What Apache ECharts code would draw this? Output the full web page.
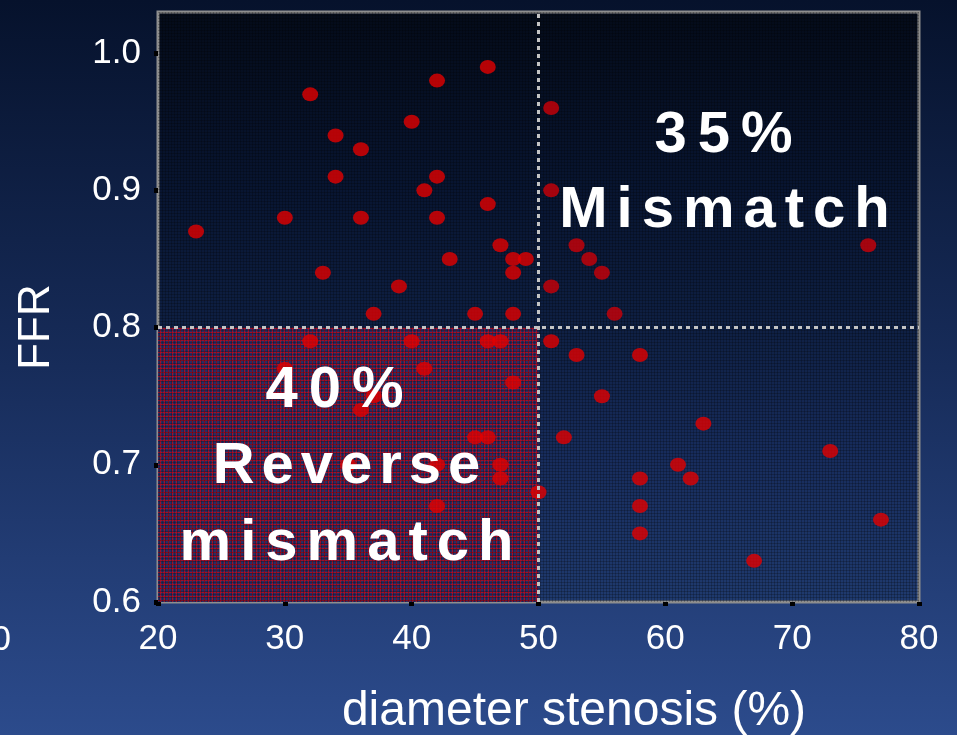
<!DOCTYPE html>
<html><head><meta charset="utf-8">
<script src="https://cdn.jsdelivr.net/npm/echarts@6/dist/echarts.min.js"></script>
<style>html,body{margin:0;padding:0;background:#0b1a3a}#c{width:957px;height:735px}</style>
</head><body><div id="c"></div>
<script>
// ---- data ----
const stenosis = [46,42,32,40,34,36,34,42,41,46,30,36,42,23,47,43,48,49,48,33,39,37,45,48,
                  51,51,76,53,54,55,51,56,
                  32,40,46,47,51,30,41,48,37,36,45,46,35,42,47,47,50,42,
                  53,58,55,63,52,73,61,58,62,58,58,77,67];
const ffr = [0.99,0.98,0.97,0.95,0.94,0.93,0.91,0.91,0.90,0.89,0.88,0.88,0.88,0.87,0.86,0.85,0.85,0.85,0.84,0.84,0.83,0.81,0.81,0.81,
             0.96,0.90,0.86,0.86,0.85,0.84,0.83,0.81,
             0.79,0.79,0.79,0.79,0.79,0.77,0.77,0.76,0.75,0.74,0.72,0.72,0.70,0.70,0.70,0.69,0.68,0.67,
             0.78,0.78,0.75,0.73,0.72,0.71,0.70,0.69,0.69,0.67,0.65,0.66,0.63];
const xTicks = [20,30,40,50,60,70,80];
const yTicks = [0.6,0.7,0.8,0.9,1.0];
const yMax = 1.03;
const xCut = 50, yCut = 0.8;
const xName = 'diameter stenosis (%)';
const yName = 'FFR';
const annText = ['35%','Mismatch','40%','Reverse','mismatch'];

// letter spacing for the bold annotation words
const spacing = {'35%':'11px','Mismatch':'9px','40%':'11px','Reverse':'7px','mismatch':'9px'};
(function(){
  const P = CanvasRenderingContext2D.prototype;
  ['fillText','strokeText'].forEach(function(fn){
    const orig = P[fn];
    P[fn] = function(t){
      const ls = spacing[t];
      if (ls && 'letterSpacing' in this) {
        const prev = this.letterSpacing; this.letterSpacing = ls;
        const r = orig.apply(this, arguments); this.letterSpacing = prev; return r;
      }
      return orig.apply(this, arguments);
    };
  });
})();

function makeTile(size, base, line){
  const c = document.createElement('canvas'); c.width = size; c.height = size;
  const g = c.getContext('2d');
  if (base){ g.fillStyle = base; g.fillRect(0,0,size,size); }
  g.fillStyle = line; g.fillRect(0,0,size,1); g.fillRect(0,0,1,size);
  return c;
}
const redTile = makeTile(4, '#2a2c64', '#a0102a');
const gridTile = makeTile(3, null, 'rgba(0,0,0,0.22)');

const FONT = '"Liberation Sans", Arial, sans-serif';
const points = stenosis.map((x,i)=>[x, ffr[i]]);

const chart = echarts.init(document.getElementById('c'));
chart.setOption({
  backgroundColor: {type:'linear',x:0,y:0,x2:0,y2:1,colorStops:[
    {offset:0,color:'#06122c'},{offset:0.5,color:'#172c5a'},{offset:1,color:'#2c4b8c'}]},
  animation:false,
  grid:{left:158,right:38,top:12,bottom:133,show:true,borderColor:'#8e8e8e',borderWidth:3,
    backgroundColor:{type:'linear',x:0,y:0,x2:0,y2:1,colorStops:[
      {offset:0,color:'#040b19'},{offset:0.3,color:'#081531'},{offset:0.52,color:'#0e1f42'},
      {offset:0.75,color:'#172c5c'},{offset:1,color:'#1f3a6e'}]}},
  xAxis:{type:'value',min:xTicks[0],max:xTicks[xTicks.length-1],interval:xTicks[1]-xTicks[0],
    axisLine:{show:false},splitLine:{show:false},
    axisTick:{show:true,length:4,lineStyle:{color:'#000',width:5}},
    axisLabel:{color:'#fff',fontSize:35,fontFamily:FONT,margin:20}},
  yAxis:{type:'value',min:yTicks[0],max:yMax,
    axisLine:{show:false},splitLine:{show:false},
    axisTick:{show:true,length:4,lineStyle:{color:'#000',width:5},customValues:yTicks},
    axisLabel:{color:'#fff',fontSize:35,fontFamily:FONT,margin:17,customValues:yTicks,
      formatter:v=>v.toFixed(1)}},
  graphic:[
    {type:'text',style:{text:xName,x:574,y:712,align:'center',verticalAlign:'middle',
      fill:'#fff',font:'48px '+FONT}},
    {type:'text',x:37,y:327,rotation:Math.PI/2,style:{text:yName,x:0,y:0,align:'center',verticalAlign:'middle',
      fill:'#fff',font:'44px '+FONT}},
    {type:'text',style:{text:'0',x:11,y:640,align:'right',verticalAlign:'middle',fill:'#fff',font:'35px '+FONT}},
    {type:'text',z:100,style:{text:annText[0],x:729,y:136,align:'center',verticalAlign:'middle',fill:'#fff',font:'bold 58px '+FONT}},
    {type:'text',z:100,style:{text:annText[1],x:729,y:211,align:'center',verticalAlign:'middle',fill:'#fff',font:'bold 58px '+FONT}},
    {type:'text',z:100,style:{text:annText[2],x:340,y:391,align:'center',verticalAlign:'middle',fill:'#fff',font:'bold 58px '+FONT}},
    {type:'text',z:100,style:{text:annText[3],x:350,y:467,align:'center',verticalAlign:'middle',fill:'#fff',font:'bold 58px '+FONT}},
    {type:'text',z:100,style:{text:annText[4],x:351,y:544,align:'center',verticalAlign:'middle',fill:'#fff',font:'bold 58px '+FONT}}
  ],
  series:[
    {type:'scatter',data:[],z:1,silent:true,
      markArea:{silent:true,itemStyle:{color:{image:redTile,repeat:'repeat'}},
        data:[[{coord:[xTicks[0],yTicks[0]]},{coord:[xCut,yCut]}]]}},
    {type:'scatter',data:[],z:2,silent:true,
      markArea:{silent:true,itemStyle:{color:{image:gridTile,repeat:'repeat'}},
        data:[[{coord:[xTicks[0],yTicks[0]]},{coord:[xTicks[xTicks.length-1],yMax]}]]}},
    {type:'scatter',data:points,z:3,symbol:'circle',symbolSize:[16,14],
      itemStyle:{color:p=>(p.value[0]>xCut&&p.value[1]>yCut)?'#cc0008':'#e20000'}},
    {type:'scatter',data:[],z:4,silent:true,
      markLine:{silent:true,symbol:'none',label:{show:false},
        lineStyle:{color:'#c4c4c4',type:[4,4],width:3},
        data:[{xAxis:xCut},{yAxis:yCut}]}}
  ]
});
</script></body></html>
